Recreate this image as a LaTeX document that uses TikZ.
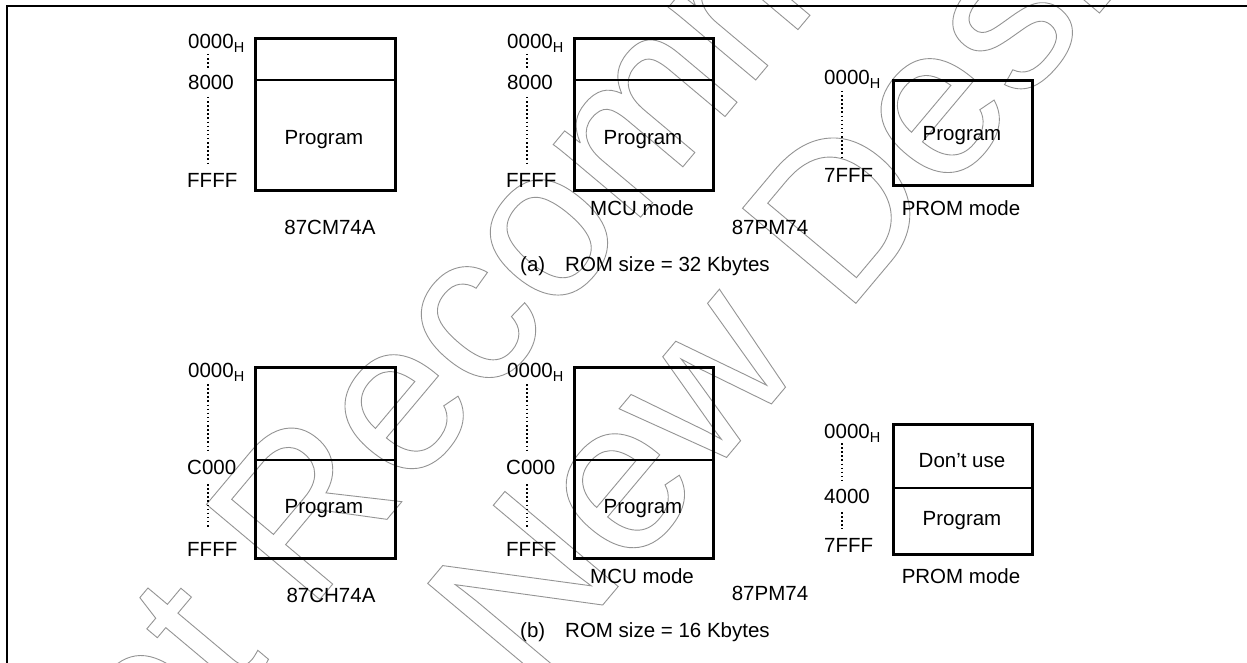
\documentclass[tikz,border=0pt]{standalone}
\usepackage{fontspec}
\setmainfont{Liberation Sans}
\newcommand{\hsub}{\raisebox{-4pt}{\fontsize{14.5}{15}\selectfont H}}
\newcommand{\wmon}{\special{pdf:literal direct 1 Tr 0.9 w}}
\newcommand{\wmoff}{\special{pdf:literal direct 0 Tr}}
\begin{document}
\begin{tikzpicture}[x=1pt,y=-1pt,
  box/.style={line width=3pt},
  divider/.style={line width=1.1pt},
  dots/.style={line width=1.5pt, dash pattern=on 1.5pt off 2.6pt},
  lbl/.style={anchor=base west, inner sep=0pt, font=\fontsize{20.5}{21}\selectfont},
  ctr/.style={anchor=base, inner sep=0pt, font=\fontsize{20.5}{21}\selectfont},
  wm/.style={rotate=50, anchor=base west, inner sep=0pt, text=black!42, font=\fontsize{215}{215}\selectfont}]
\useasboundingbox (0,0) rectangle (1247,663);
\fill[white] (0,0) rectangle (1247,663);
% watermark
\begin{scope}
\clip (0,0) rectangle (1247,663);
\node[wm] (w1) at (55,915) {\wmon Not Recommended\wmoff};
\node[wm] (w2) at (330,930) {\wmon for New Design\wmoff};
\end{scope}
% frame
\coordinate (fbl) at (7,663);
\coordinate (ftl) at (7,6);
\coordinate (ftr) at (1247,6);
\draw[line width=2pt] (fbl) -- (ftl) -- (ftr);
% ===== panel (a) =====
% box a1
\draw[box] (255,39) rectangle (395,191);
\draw[divider] (255,80) -- (395,80);
\node[ctr] (a1p) at (324,145) {Program};
\node[lbl] (a1l0) at (188,49) {0000\hsub};
\node[lbl] (a1l1) at (188,90) {8000};
\node[lbl] (a1l2) at (187,188) {FFFF};
\draw[dots] (208,54) -- (208,68);
\draw[dots] (208,97) -- (208,163);
\node[ctr] (a1n) at (330,234) {87CM74A};
% box a2
\draw[box] (574,39) rectangle (713,191);
\draw[divider] (574,80) -- (713,80);
\node[ctr] (a2p) at (643,145) {Program};
\node[lbl] (a2l0) at (507,49) {0000\hsub};
\node[lbl] (a2l1) at (507,90) {8000};
\node[lbl] (a2l2) at (506,188) {FFFF};
\draw[dots] (527,54) -- (527,68);
\draw[dots] (527,97) -- (527,163);
\node[ctr] (a2m) at (642,215) {MCU mode};
\node[ctr] (a2n) at (770,234) {87PM74};
% box a3
\draw[box] (893,81) rectangle (1032,186);
\node[ctr] (a3p) at (962,141) {Program};
\node[lbl] (a3l0) at (824,85) {0000\hsub};
\node[lbl] (a3l2) at (824,183) {7FFF};
\draw[dots] (842,91) -- (842,160);
\node[ctr] (a3m) at (961,215) {PROM mode};
% caption a
\node[lbl] (capa1) at (520,271) {(a)};
\node[lbl] (capa2) at (565,271) {ROM size = 32 Kbytes};
% ===== panel (b) =====
% box b1
\draw[box] (255,367) rectangle (395,558);
\draw[divider] (255,460) -- (395,460);
\node[ctr] (b1p) at (324,513) {Program};
\node[lbl] (b1l0) at (188,377) {0000\hsub};
\node[lbl] (b1l1) at (187,474) {C000};
\node[lbl] (b1l2) at (187,556) {FFFF};
\draw[dots] (208,384) -- (208,450);
\draw[dots] (208,484) -- (208,528);
\node[ctr] (b1n) at (331,602) {87CH74A};
% box b2
\draw[box] (574,367) rectangle (713,558);
\draw[divider] (574,460) -- (713,460);
\node[ctr] (b2p) at (643,513) {Program};
\node[lbl] (b2l0) at (507,377) {0000\hsub};
\node[lbl] (b2l1) at (506,474) {C000};
\node[lbl] (b2l2) at (506,556) {FFFF};
\draw[dots] (527,384) -- (527,450);
\draw[dots] (527,484) -- (527,528);
\node[ctr] (b2m) at (642,583) {MCU mode};
\node[ctr] (b2n) at (770,600) {87PM74};
% box b3
\draw[box] (893,424) rectangle (1032,554);
\draw[divider] (893,488) -- (1032,488);
\node[ctr] (b3d) at (962,467) {Don’t use};
\node[ctr] (b3p) at (962,525) {Program};
\node[lbl] (b3l0) at (824,438) {0000\hsub};
\node[lbl] (b3l1) at (824,503) {4000};
\node[lbl] (b3l2) at (824,552) {7FFF};
\draw[dots] (842,443) -- (842,482);
\draw[dots] (842,512) -- (842,529);
\node[ctr] (b3m) at (961,583) {PROM mode};
% caption b
\node[lbl] (capb1) at (520,637) {(b)};
\node[lbl] (capb2) at (565,637) {ROM size = 16 Kbytes};
\end{tikzpicture}
\end{document}
